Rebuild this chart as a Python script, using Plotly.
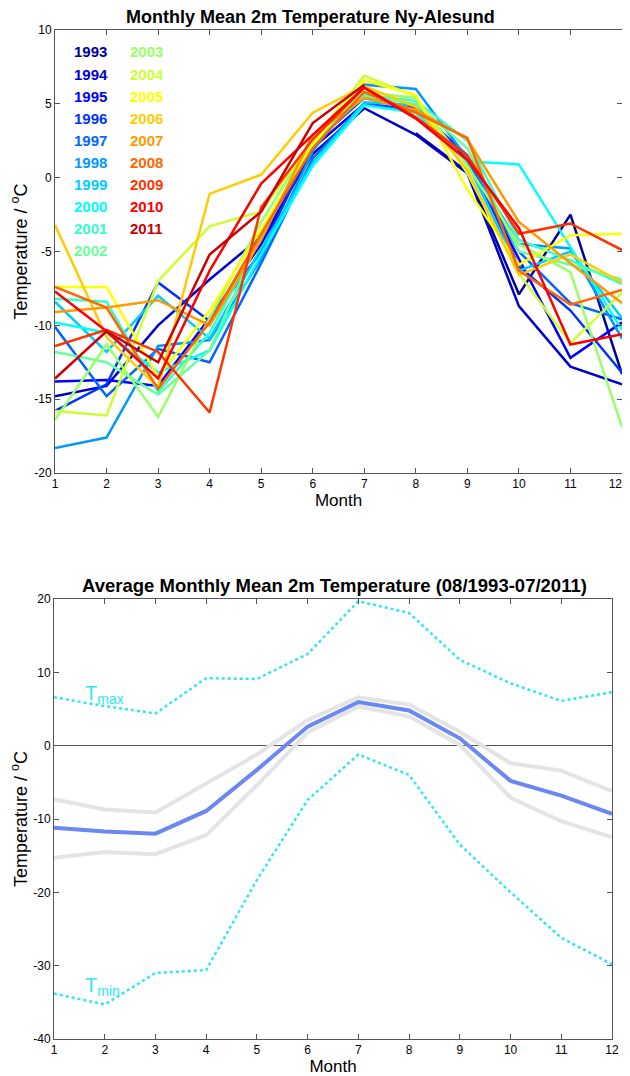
import plotly.graph_objects as go

months = list(range(1, 13))
years = list(range(1993, 2012))
N = None

# Monthly mean 2m temperature per year (deg C), Jan..Dec
t1993 = [N, N, N, N, N, N, N, 3.0, 0.4, -7.9, -2.5, -13.3]
t1994 = [-14.8, -14.1, -10.0, -6.9, -4.0, 1.6, 4.7, 2.9, 0.3, -8.7, -12.8, -14.0]
t1995 = [-13.8, -13.7, -14.1, -9.5, -4.5, 2.0, 5.0, 4.6, 1.2, -5.5, -12.2, -9.8]
t1996 = [-15.8, -14.0, -7.1, -9.7, -5.0, 2.3, 5.4, 4.7, 1.5, -6.0, -9.0, -13.2]
t1997 = [-10.1, -14.8, -11.6, -12.5, -5.8, 1.3, 5.0, 4.5, 1.0, -5.0, -8.5, -9.6]
t1998 = [-18.3, -17.6, -11.4, -11.0, -5.5, 1.8, 6.3, 6.0, 1.3, -4.5, -4.8, -10.9]
t1999 = [-8.4, -11.8, -8.0, -10.9, -4.8, 1.0, 5.1, 4.9, 1.0, -6.3, -5.0, -9.5]
t2000 = [-9.8, -10.5, -13.2, -11.7, -5.2, 0.8, 4.9, 4.4, 1.1, 0.9, -4.7, -10.3]
t2001 = [-8.2, -8.4, -14.5, -10.5, -4.0, 2.2, 5.6, 5.2, 2.5, -4.2, -5.6, -7.2]
t2002 = [-11.8, -12.5, -14.7, -11.7, -3.8, 2.5, 5.5, 5.0, 2.0, -5.0, -5.9, -6.9]
t2003 = [-16.4, -11.3, -16.2, -9.5, -3.0, 2.6, 5.8, 5.4, 0.8, -4.5, -6.4, -16.9]
t2004 = [-15.8, -16.1, -7.0, -3.3, -2.3, 2.5, 6.9, 5.5, 0.3, -6.5, -11.2, -7.8]
t2005 = [-7.4, -7.4, -13.5, -9.0, -3.5, 2.2, 6.6, 5.6, -0.8, -5.9, -3.9, -3.8]
t2006 = [-3.2, -10.8, -14.2, -1.1, 0.2, 4.4, 6.2, 4.8, 0.5, -6.6, -5.2, -7.1]
t2007 = [-9.1, -8.8, -8.3, -10.0, -4.2, 2.9, 5.4, 4.6, 2.6, -3.0, -5.8, -8.5]
t2008 = [-7.4, -8.8, -14.3, -9.8, -3.8, 2.0, 5.8, 4.4, 2.7, -6.3, -8.6, -7.6]
t2009 = [-11.4, -10.3, -11.8, -15.9, -2.0, 2.6, 6.1, 4.1, 1.5, -3.8, -3.1, -4.9]
t2010 = [-7.7, -10.4, -13.6, -6.3, -0.4, 2.9, 6.1, 4.0, 1.2, -3.4, -11.3, -10.6]
t2011 = [-13.6, -10.4, -12.5, -5.2, -2.3, 3.7, 6.3, N, N, N, N, N]

yearly = [t1993, t1994, t1995, t1996, t1997, t1998, t1999, t2000, t2001, t2002,
          t2003, t2004, t2005, t2006, t2007, t2008, t2009, t2010, t2011]

# Average statistics (08/1993-07/2011)
t_mean = [-11.2, -11.7, -12.0, -8.9, -3.3, 2.6, 5.95, 4.8, 1.0, -4.8, -6.8, -9.3]
t_upper = [-7.3, -8.7, -9.1, -5.1, -1.2, 3.5, 6.6, 5.6, 1.9, -2.4, -3.4, -6.2]
t_lower = [-15.3, -14.5, -14.8, -12.2, -5.4, 1.8, 5.35, 4.0, 0.1, -7.1, -10.3, -12.5]
t_max = [6.6, 5.4, 4.4, 9.2, 9.1, 12.5, 19.7, 18.1, 11.7, 8.5, 6.1, 7.3]
t_min = [-33.8, -35.3, -31.0, -30.6, -18.3, -7.4, -1.2, -4.0, -13.5, -20.0, -26.2, -29.8]

month_labels = [str(m) for m in months]
top_yticks = [-20, -15, -10, -5, 0, 5, 10]
bot_yticks = [-40, -30, -20, -10, 0, 10, 20]

# jet(19) colormap
jet = [(0, 0, .6), (0, 0, .8), (0, 0, 1), (0, .2, 1), (0, .4, 1), (0, .6, 1), (0, .8, 1),
       (0, 1, 1), (.2, 1, .8), (.4, 1, .6), (.6, 1, .4), (.8, 1, .2), (1, 1, 0), (1, .8, 0),
       (1, .6, 0), (1, .4, 0), (1, .2, 0), (1, 0, 0), (.8, 0, 0)]
colors = ['rgb(%d,%d,%d)' % tuple(round(255 * c) for c in rgb) for rgb in jet]

FONT = "Liberation Sans, Arial, sans-serif"
OFF = 8  # default page body margin
W, H = 630 - OFF, 1076 - OFF

fig = go.Figure()

for yr, vals, col in zip(years, yearly, colors):
    fig.add_trace(go.Scatter(x=months, y=vals, mode="lines", name=str(yr),
                             line=dict(color=col, width=2.5), xaxis="x", yaxis="y",
                             connectgaps=False))

grey = "rgb(228,228,228)"
fig.add_trace(go.Scatter(x=months, y=t_upper, mode="lines", line=dict(color=grey, width=4),
                         xaxis="x2", yaxis="y2"))
fig.add_trace(go.Scatter(x=months, y=t_lower, mode="lines", line=dict(color=grey, width=4),
                         xaxis="x2", yaxis="y2"))
fig.add_trace(go.Scatter(x=months, y=t_mean, mode="lines", line=dict(color="#6b87f2", width=4),
                         xaxis="x2", yaxis="y2"))
fig.add_trace(go.Scatter(x=months, y=t_max, mode="lines",
                         line=dict(color="#2de8ee", width=2.5, dash="dot"),
                         xaxis="x2", yaxis="y2"))
fig.add_trace(go.Scatter(x=months, y=t_min, mode="lines",
                         line=dict(color="#2de8ee", width=2.5, dash="dot"),
                         xaxis="x2", yaxis="y2"))

def px2x(p):
    return (p - OFF) / W

def px2y(p):
    return 1 - (p - OFF) / H

axis_common = dict(showgrid=False, showline=True, linecolor="#555", linewidth=1,
                   mirror="ticks", ticks="inside", ticklen=5, tickcolor="#555",
                   automargin=False, ticklabeloverflow="allow",
                   tickfont=dict(family=FONT, size=12, color="black"))

def yt(vals):
    return [str(v) for v in vals]

# last label of the top axis sits at the page edge: pad it so it stays visible
top_month_labels = month_labels[:-1] + [month_labels[-1] + "\u00a0" * 4]

fig.update_layout(
    width=W, height=H,
    margin=dict(l=0, r=0, t=0, b=0),
    paper_bgcolor="white", plot_bgcolor="white",
    showlegend=False,
    font=dict(family=FONT, color="black"),
    xaxis=dict(domain=[px2x(55), px2x(622)], anchor="y", range=[1, 12],
               tickvals=months, ticktext=top_month_labels, zeroline=False,
               title=dict(text="Month", font=dict(size=17), standoff=0),
               **axis_common),
    yaxis=dict(domain=[px2y(473), px2y(30)], anchor="x", range=[-20, 10],
               tickvals=top_yticks, ticktext=yt(top_yticks), zeroline=False,
               title=dict(text="Temperature / <sup>o</sup>C", font=dict(size=18), standoff=6),
               **axis_common),
    xaxis2=dict(domain=[px2x(54), px2x(612)], anchor="y2", range=[1, 12],
                tickvals=months, ticktext=month_labels, zeroline=False,
                title=dict(text="Month", font=dict(size=17), standoff=0),
                **axis_common),
    yaxis2=dict(domain=[px2y(1039), px2y(599)], anchor="x2", range=[-40, 20],
                tickvals=bot_yticks, ticktext=yt(bot_yticks),
                title=dict(text="Temperature / <sup>o</sup>C", font=dict(size=18), standoff=6),
                zeroline=True, zerolinecolor="#555", zerolinewidth=1,
                **axis_common),
)

annotations = [
    dict(text="<b>Monthly Mean 2m Temperature Ny-Alesund</b>", xref="paper", yref="paper",
         x=px2x(310), y=px2y(29), xanchor="center", yanchor="bottom", showarrow=False,
         font=dict(family=FONT, size=18, color="black")),
    dict(text="<b>Average Monthly Mean 2m Temperature (08/1993-07/2011)</b>", xref="paper",
         yref="paper", x=px2x(334), y=px2y(598), xanchor="center", yanchor="bottom",
         showarrow=False, font=dict(family=FONT, size=18.5, color="black")),
    dict(text="T<sub>max</sub>", xref="x2", yref="y2", x=1.57, y=7.0, xanchor="left",
         yanchor="middle", showarrow=False, font=dict(family=FONT, size=20, color="#2de8ee")),
    dict(text="T<sub>min</sub>", xref="x2", yref="y2", x=1.57, y=-32.9, xanchor="left",
         yanchor="middle", showarrow=False, font=dict(family=FONT, size=20, color="#2de8ee")),
]

for i, (yr, col) in enumerate(zip(years, colors)):
    colx = 72 if i < 10 else 128
    row = i if i < 10 else i - 10
    annotations.append(dict(text="<b>%d</b>" % yr, xref="paper", yref="paper",
                            x=px2x(colx), y=px2y(52 + row * 22.1), xanchor="left",
                            yanchor="middle", showarrow=False,
                            font=dict(family=FONT, size=15, color=col)))

fig.update_layout(annotations=annotations)
fig.write_html("out.html")
